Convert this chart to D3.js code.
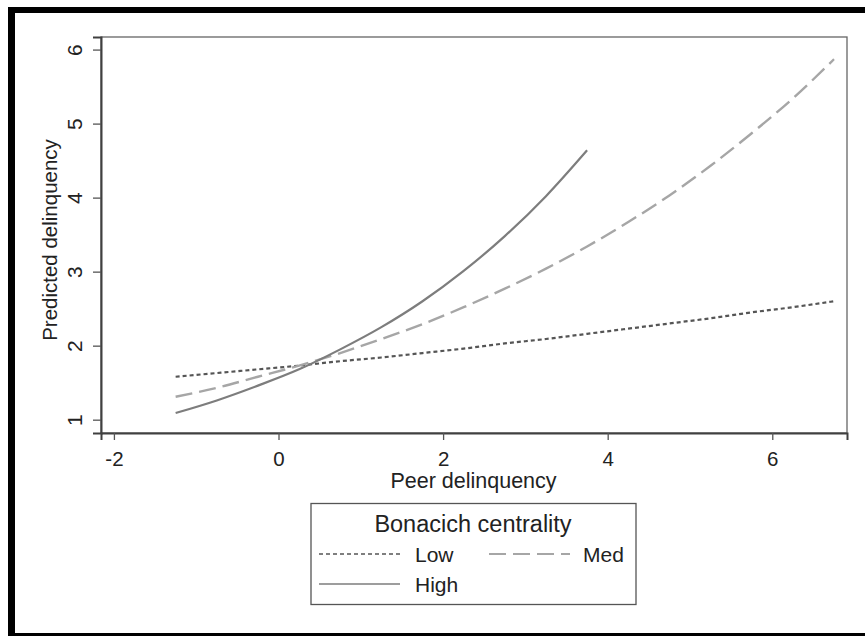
<!DOCTYPE html>
<html>
<head>
<meta charset="utf-8" />
<title>Predicted delinquency by peer delinquency</title>
<script src="https://d3js.org/d3.v7.min.js"></script>
<style>
  body { margin: 0; background: #fff; }
  text { font-family: "Liberation Sans", Arial, sans-serif; fill: #222; }
</style>
</head>
<body>
<div id="chart"></div>
<script>
// values
const peerX = [-1.25, -0.75, -0.25, 0.25, 0.75, 1.25, 1.75, 2.25, 2.75, 3.25, 3.75,
               4.25, 4.75, 5.25, 5.75, 6.25, 6.75];
const lowVals  = [1.58, 1.63, 1.68, 1.73, 1.79, 1.84, 1.90, 1.96, 2.03, 2.09, 2.16,
                  2.23, 2.30, 2.37, 2.45, 2.52, 2.60];
const medVals  = [1.31, 1.43, 1.58, 1.73, 1.90, 2.09, 2.29, 2.52, 2.77, 3.04, 3.34,
                  3.67, 4.03, 4.43, 4.87, 5.34, 5.87];
const highVals = [1.09, 1.26, 1.46, 1.68, 1.95, 2.25, 2.60, 3.01, 3.48, 4.02, 4.64];
const xTicks = [-2, 0, 2, 4, 6];
const yTicks = [1, 2, 3, 4, 5, 6];
const seriesNames = ["Low", "Med", "High"];

const W = 865, H = 636;
const plot = { left: 101, top: 37, right: 847, bottom: 433 };

const svg = d3.select("#chart").append("svg")
    .attr("width", W)
    .attr("height", H);

svg.append("rect").attr("width", W).attr("height", H).attr("fill", "#fff");

// black frame around the figure
svg.append("rect").attr("x", 8).attr("y", 7).attr("width", W - 8).attr("height", 6).attr("fill", "#000");
svg.append("rect").attr("x", 8).attr("y", 7).attr("width", 7).attr("height", H - 7).attr("fill", "#000");
svg.append("rect").attr("x", 8).attr("y", 633).attr("width", W - 8).attr("height", 3).attr("fill", "#000");

const x = d3.scaleLinear().domain([-2.157, 6.908]).range([plot.left, plot.right]);
const y = d3.scaleLinear().domain([0.82, 6.17]).range([plot.bottom, plot.top]);

// plot region border
svg.append("rect")
    .attr("x", plot.left).attr("y", plot.top)
    .attr("width", plot.right - plot.left).attr("height", plot.bottom - plot.top)
    .attr("fill", "none").attr("stroke", "#666").attr("stroke-width", 1.3);

const xAxis = svg.append("g")
    .attr("transform", `translate(0,${plot.bottom})`)
    .call(d3.axisBottom(x).tickValues(xTicks).tickSize(7).tickPadding(11).tickFormat(d3.format("d")));
xAxis.select(".domain").attr("stroke", "#404040").attr("stroke-width", 2);
xAxis.selectAll(".tick line").attr("stroke", "#555").attr("stroke-width", 1.3);
xAxis.selectAll(".tick text").attr("font-size", 20.5).attr("fill", "#222")
    .attr("font-family", "Liberation Sans, Arial, sans-serif")
    .text(d => d < 0 ? "-" + Math.abs(d) : d);

const yAxis = svg.append("g")
    .attr("transform", `translate(${plot.left},0)`)
    .call(d3.axisLeft(y).tickValues(yTicks).tickSize(8).tickFormat(d3.format("d")));
yAxis.select(".domain").attr("stroke", "#404040").attr("stroke-width", 2);
yAxis.selectAll(".tick line").attr("stroke", "#555").attr("stroke-width", 1.3);
yAxis.selectAll(".tick text")
    .attr("font-size", 21).attr("fill", "#222")
    .attr("font-family", "Liberation Sans, Arial, sans-serif")
    .attr("x", null).attr("dy", null)
    .attr("text-anchor", "middle")
    .attr("transform", "translate(-19,0) rotate(-90)");

// axis titles
svg.append("text")
    .attr("x", (plot.left + plot.right) / 2 - 0.5).attr("y", 488)
    .attr("text-anchor", "middle").attr("font-size", 21.5)
    .text("Peer delinquency");
svg.append("text")
    .attr("transform", `translate(57,${(plot.top + plot.bottom) / 2 + 5}) rotate(-90)`)
    .attr("text-anchor", "middle").attr("font-size", 20.5)
    .text("Predicted delinquency");

const styles = {
  Low:  { stroke: "#555",    dash: "4,3",  width: 2.2 },
  Med:  { stroke: "#a6a6a6", dash: "17,7", width: 2.4 },
  High: { stroke: "#7d7d7d", dash: null,   width: 2.2 }
};

const seriesData = [
  { name: "Low",  vals: lowVals },
  { name: "Med",  vals: medVals },
  { name: "High", vals: highVals }
];

const line = d3.line()
    .x(d => x(d[0]))
    .y(d => y(d[1]))
    .curve(d3.curveMonotoneX);

svg.append("g").selectAll("path")
    .data(seriesData)
    .join("path")
    .attr("d", s => line(s.vals.map((v, i) => [peerX[i], v])))
    .attr("fill", "none")
    .attr("stroke", s => styles[s.name].stroke)
    .attr("stroke-width", s => styles[s.name].width)
    .attr("stroke-dasharray", s => styles[s.name].dash);

// legend
const lg = svg.append("g");
lg.append("rect")
    .attr("x", 311).attr("y", 503.5).attr("width", 325).attr("height", 101)
    .attr("fill", "#fff").attr("stroke", "#555").attr("stroke-width", 1.3);
lg.append("text")
    .attr("x", 473).attr("y", 532)
    .attr("text-anchor", "middle").attr("font-size", 23.5)
    .text("Bonacich centrality");

const legendPos = {
  Low:  { x: 319, y: 554, tx: 415, ty: 562 },
  Med:  { x: 489, y: 554, tx: 583, ty: 562 },
  High: { x: 319, y: 584, tx: 415, ty: 592 }
};

seriesNames.forEach(n => {
  const p = legendPos[n], s = styles[n];
  lg.append("line")
      .attr("x1", p.x).attr("x2", p.x + 81)
      .attr("y1", p.y).attr("y2", p.y)
      .attr("stroke", s.stroke).attr("stroke-width", n === "Med" ? 2 : 1.6)
      .attr("stroke-dasharray", s.dash);
  lg.append("text")
      .attr("x", p.tx).attr("y", p.ty)
      .attr("font-size", 21)
      .text(n);
});
</script>
</body>
</html>
